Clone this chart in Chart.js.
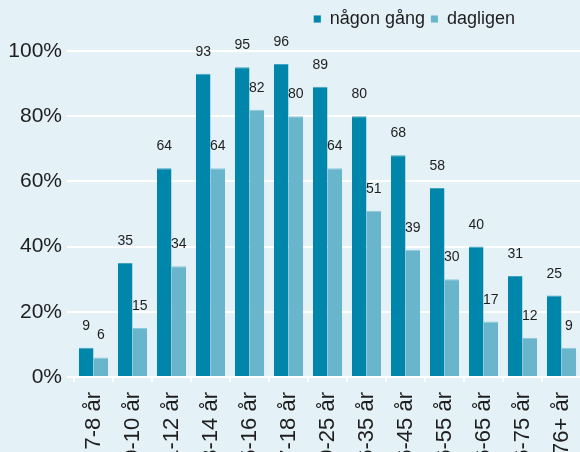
<!DOCTYPE html>
<html>
<head>
<meta charset="utf-8">
<script src="https://cdn.jsdelivr.net/npm/chart.js@4.4.1/dist/chart.umd.min.js"></script>
<style>
  html, body { margin: 0; padding: 0; background: #e4f1f6; overflow: hidden; }
  #wrap { width: 581px; height: 500px; }
</style>
</head>
<body>
<div id="wrap"><canvas id="myChart"></canvas></div>
<script>
const ageGroups = ["7-8 år", "9-10 år", "11-12 år", "13-14 år", "15-16 år", "17-18 år",
  "19-25 år", "26-35 år", "36-45 år", "46-55 år", "56-65 år", "66-75 år", "76+ år"];
const nagonGang = [9, 35, 64, 93, 95, 96, 89, 80, 68, 58, 40, 31, 25];
const dagligen = [6, 15, 34, 64, 82, 80, 64, 51, 39, 30, 17, 12, 9];
const yTicks = [0, 20, 40, 60, 80, 100];

const textColor = "#1e1e1e";
const bgColor = "#e4f1f6";

const background = {
  id: "background",
  beforeDraw(chart) {
    const ctx = chart.ctx;
    ctx.save();
    ctx.fillStyle = bgColor;
    ctx.fillRect(0, 0, chart.width, chart.height);
    ctx.restore();
  },
};

const barLabels = {
  id: "barLabels",
  afterDatasetsDraw(chart) {
    const ctx = chart.ctx;
    ctx.save();
    ctx.font = "14px 'Liberation Sans', Arial, sans-serif";
    ctx.fillStyle = textColor;
    ctx.textAlign = "center";
    ctx.textBaseline = "alphabetic";
    chart.data.datasets.forEach((ds, i) => {
      chart.getDatasetMeta(i).data.forEach((bar, j) => {
        ctx.fillText(ds.data[j], bar.x, bar.y - 18);
      });
    });
    ctx.restore();
  },
};

// put the legend up in the top right corner, like the original
const legendSpot = {
  id: "legendSpot",
  afterLayout(chart) {
    const lg = chart.legend;
    const w = lg.right - lg.left;
    lg.right = 521;
    lg.left = lg.right - w;
    lg.top = 4;
  },
};

function initChart() {
  const ctx = document.getElementById("myChart");

  const chart = new Chart(ctx, {
    type: "bar",
    data: {
      labels: ageGroups,
      datasets: [
        {
          label: "någon gång",
          data: nagonGang,
          backgroundColor: "#0086aa",
          borderColor: "#3fa3c2",
          borderWidth: { top: 1, left: 0, right: 0, bottom: 0 },
        },
        {
          label: "dagligen",
          data: dagligen,
          backgroundColor: "#69b5cc",
          borderColor: "#8ecadb",
          borderWidth: { top: 1, left: 0, right: 0, bottom: 0 },
        },
      ],
    },
    options: {
      responsive: true,
      maintainAspectRatio: false,
      animation: false,
      layout: { padding: { top: 0, right: 0, bottom: 0, left: 0 } },
      datasets: {
        bar: { categoryPercentage: 0.75, barPercentage: 1 },
      },
      plugins: {
        tooltip: { enabled: false },
        legend: {
          position: "top",
          align: "end",
          labels: {
            boxWidth: 7,
            boxHeight: 7,
            padding: 6,
            color: textColor,
            font: { family: "'Liberation Sans', Arial, sans-serif", size: 18 },
          },
        },
      },
      scales: {
        x: {
          grid: {
            display: true,
            drawOnChartArea: false,
            drawTicks: true,
            tickLength: 5,
            color: "#ffffff",
            lineWidth: 2,
          },
          border: { display: true, color: "#ffffff", width: 2 },
          ticks: {
            color: textColor,
            minRotation: 90,
            maxRotation: 90,
            autoSkip: false,
            padding: 10,
            font: { family: "'Liberation Sans', Arial, sans-serif", size: 22 },
          },
          afterFit(scale) {
            scale.height = 123;
            // the last label may run off the edge, as in the original
            scale.paddingLeft = 0;
            scale.paddingRight = 0;
          },
        },
        y: {
          min: 0,
          max: 100,
          afterBuildTicks(scale) {
            scale.ticks = yTicks.map((v) => ({ value: v }));
          },
          grid: {
            color: "#ffffff",
            lineWidth: 2,
            tickLength: 7,
          },
          border: { display: false },
          ticks: {
            color: textColor,
            padding: 5,
            font: { family: "'Liberation Sans', Arial, sans-serif", size: 21 },
            callback: (v) => v + "%",
          },
          afterFit(scale) {
            scale.width = 74;
          },
        },
      },
    },
    plugins: [background, barLabels, legendSpot],
  });

  // make the 100% line land where it is in the original
  chart.options.layout.padding.top += 51 - chart.chartArea.top;
  chart.update("none");

  return chart;
}

initChart();
</script>
</body>
</html>
